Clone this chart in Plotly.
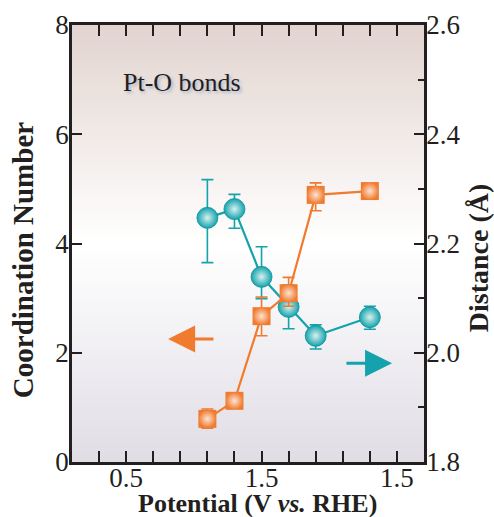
import plotly.graph_objects as go

# ---- data ----
potential = [0.8, 0.9, 1.0, 1.1, 1.2, 1.4]
coord_num = [0.79, 1.12, 2.67, 3.09, 4.89, 4.96]
coord_err_plus = [0.18, 0.10, 0.35, 0.29, 0.22, 0.10]
coord_err_minus = [0.17, 0.10, 0.36, 0.24, 0.29, 0.10]
distance = [2.247, 2.263, 2.139, 2.084, 2.031, 2.065]
dist_err_plus = [0.070, 0.027, 0.055, 0.040, 0.020, 0.020]
dist_err_minus = [0.082, 0.035, 0.040, 0.040, 0.024, 0.022]
x_tickvals = [0.5, 1.0, 1.5]
x_ticktext = ["0.5", "1.5", "1.5"]
orange_arrow = dict(x_tail=0.828, x_head=0.655, y=2.25)
teal_arrow = dict(x_tail=1.308, x_head=1.482, y=1.981)

x_title = "Potential (V <i>vs.</i> RHE)"
y_left_title = "Coordination Number"
y_right_title = "Distance (Å)"

TEAL = "#14a3ad"
ORANGE = "#f07a2e"
FONT = "Liberation Serif"
TXT = "#231f20"

fig = go.Figure()

# background gradient (pinkish-brown top -> white -> lavender-grey bottom)
def lerp(c1, c2, t):
    return tuple(round(a + (b - a) * t) for a, b in zip(c1, c2))

top = (226, 212, 207)
mid = (255, 255, 255)
bot = (224, 221, 229)
n = 90
mid_pos = 0.50
for i in range(n):
    y0 = i / n
    y1 = (i + 1) / n
    yc = (y0 + y1) / 2
    if yc < mid_pos:
        c = lerp(bot, mid, yc / mid_pos)
    else:
        c = lerp(mid, top, (yc - mid_pos) / (1 - mid_pos))
    fig.add_shape(type="rect", xref="paper", yref="paper", x0=0, x1=1, y0=y0, y1=y1 + 0.002,
                  fillcolor="rgb(%d,%d,%d)" % c, line=dict(width=0), layer="below")

# teal: distance (yaxis, right side)
fig.add_trace(go.Scatter(
    x=potential, y=distance, yaxis="y", mode="lines+markers",
    line=dict(color=TEAL, width=2.2),
    marker=dict(symbol="circle", size=21, color=TEAL,
                gradient=dict(type="radial", color="#d9f1f0"),
                line=dict(width=0.8, color="#0d8f98")),
    error_y=dict(type="data", symmetric=False, array=dist_err_plus, arrayminus=dist_err_minus,
                 color=TEAL, thickness=1.6, width=6),
    showlegend=False))

# orange: coordination number (yaxis2, left side, overlaid on top)
fig.add_trace(go.Scatter(
    x=potential, y=coord_num, yaxis="y2", mode="lines+markers",
    line=dict(color=ORANGE, width=2.2),
    marker=dict(symbol="square", size=18, color=ORANGE,
                gradient=dict(type="radial", color="#fde4d4"),
                line=dict(width=0)),
    error_y=dict(type="data", symmetric=False, array=coord_err_plus, arrayminus=coord_err_minus,
                 color=ORANGE, thickness=1.6, width=6),
    showlegend=False))

fig.add_annotation(x=orange_arrow["x_head"], y=orange_arrow["y"], ax=orange_arrow["x_tail"], ay=orange_arrow["y"],
                   xref="x", yref="y2", axref="x", ayref="y2", text="", showarrow=True,
                   arrowhead=2, arrowsize=1.8, arrowwidth=3, arrowcolor=ORANGE)
fig.add_annotation(x=teal_arrow["x_head"], y=teal_arrow["y"], ax=teal_arrow["x_tail"], ay=teal_arrow["y"],
                   xref="x", yref="y", axref="x", ayref="y", text="", showarrow=True,
                   arrowhead=2, arrowsize=1.8, arrowwidth=3, arrowcolor=TEAL)

fig.add_annotation(x=0.14, y=0.869, xref="paper", yref="paper", xanchor="left", yanchor="middle",
                   text="Pt-O bonds", showarrow=False,
                   font=dict(family=FONT, size=26, color=TXT, shadow="2px 2px 3px rgba(120,150,190,0.55)"))

# axis titles as annotations (precise placement)
fig.add_annotation(x=0.528, y=-0.094, xref="paper", yref="paper", xanchor="center", yanchor="middle",
                   text=x_title, showarrow=False,
                   font=dict(family=FONT, size=26, color=TXT, weight="bold"))
fig.add_annotation(x=-0.139, y=0.462, xref="paper", yref="paper", xanchor="center", yanchor="middle",
                   text=y_left_title, showarrow=False, textangle=-90,
                   font=dict(family=FONT, size=29, color=TXT, weight="bold"))
fig.add_annotation(x=1.157, y=0.467, xref="paper", yref="paper", xanchor="center", yanchor="middle",
                   text=y_right_title, showarrow=False, textangle=-90,
                   font=dict(family=FONT, size=28, color=TXT, weight="bold"))

axis_common = dict(showline=True, linecolor=TXT, linewidth=2.5, ticks="inside", tickcolor=TXT,
                   tickwidth=2, showgrid=False, zeroline=False, automargin=False,
                   tickfont=dict(family=FONT, size=27, color=TXT))

fig.update_layout(
    width=494, height=517,
    margin=dict(l=72, r=70, t=25, b=55),
    paper_bgcolor="white", plot_bgcolor="rgba(0,0,0,0)",
    xaxis=dict(range=[0.3, 1.6], tickvals=x_tickvals, ticktext=x_ticktext, ticklen=11,
               mirror="allticks", ticklabelstandoff=-10,
               minor=dict(dtick=0.1, tick0=0.3, ticks="inside", ticklen=5, tickwidth=2, tickcolor=TXT),
               **axis_common),
    yaxis=dict(range=[1.8, 2.6], side="right", dtick=0.2, tick0=1.8, tickformat=".1f", ticklen=10,
               ticklabelstandoff=-6,
               minor=dict(dtick=0.1, tick0=1.8, ticks="inside", ticklen=6, tickwidth=2, tickcolor=TXT),
               **axis_common),
    yaxis2=dict(range=[0, 8], side="left", overlaying="y", dtick=2, tick0=0, ticklen=10,
                ticklabelstandoff=-5,
                **axis_common),
)

# remove the default 8px page margin so the figure fills the window exactly
fig.write_html("out.html", config={"displayModeBar": False},
               post_script="document.body.style.margin='0';")
